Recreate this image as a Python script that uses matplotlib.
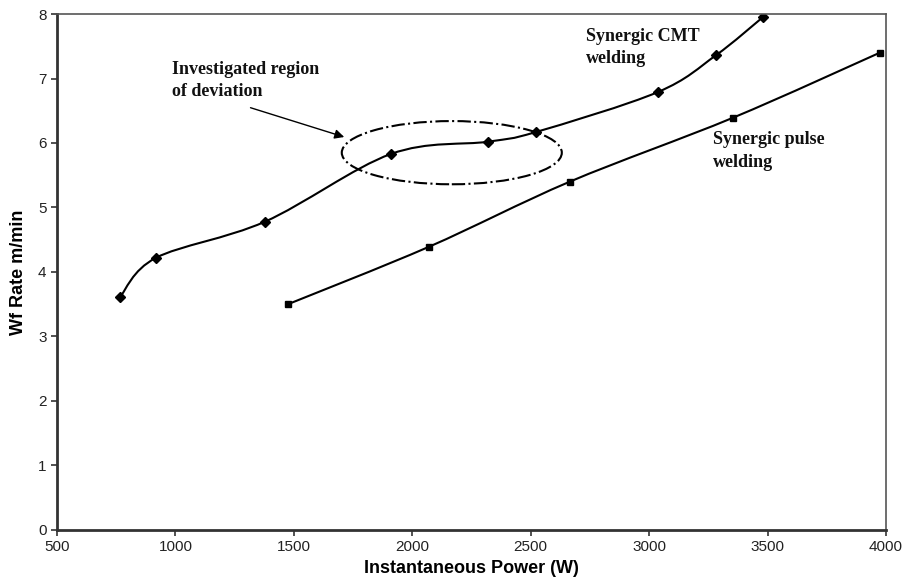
import numpy as np
import matplotlib
matplotlib.use('Agg')
import matplotlib.pyplot as plt
from matplotlib.path import Path
from matplotlib.patches import PathPatch, Ellipse

# Data #
cmt_power = [766, 918, 1378, 1910, 2319, 2522, 3037, 3282, 3480]
cmt_rate = [3.61, 4.22, 4.78, 5.83, 6.02, 6.17, 6.79, 7.36, 7.95]
pulse_power = [1475, 2070, 2665, 3353, 3974]
pulse_rate = [3.50, 4.39, 5.40, 6.39, 7.40]
x_ticks = [500, 1000, 1500, 2000, 2500, 3000, 3500, 4000]
y_ticks = [0, 1, 2, 3, 4, 5, 6, 7, 8]


def smooth_path(xs, ys):
    # Excel-style smoothed line through the points (Bezier segments)
    pts = np.column_stack([xs, ys]).astype(float)
    n = len(pts)
    verts = [pts[0]]
    codes = [Path.MOVETO]
    for i in range(n - 1):
        p0 = pts[i - 1] if i > 0 else pts[i]
        p1 = pts[i]
        p2 = pts[i + 1]
        p3 = pts[i + 2] if i + 2 < n else pts[i + 1]
        verts += [p1 + (p2 - p0) / 6, p2 - (p3 - p1) / 6, p2]
        codes += [Path.CURVE4] * 3
    return Path(verts, codes)


fig = plt.figure(figsize=(9.07, 5.86), dpi=100)
ax = fig.add_axes([0.0628, 0.0956, 0.914, 0.8805])

ax.add_patch(PathPatch(smooth_path(cmt_power, cmt_rate), fill=False, lw=1.5, color='black'))
ax.add_patch(PathPatch(smooth_path(pulse_power, pulse_rate), fill=False, lw=1.5, color='black'))
ax.plot(cmt_power, cmt_rate, 'D', color='black', ms=5.5, ls='none')
ax.plot(pulse_power, pulse_rate, 's', color='black', ms=4.5, ls='none')

# Region of deviation #
ax.add_patch(Ellipse((2167, 5.85), 929, 0.98, fill=False, lw=1.5, ls='-.', color='black'))
ax.annotate('', xy=(1724, 6.08), xytext=(1306, 6.56),
            arrowprops=dict(arrowstyle='-|>', color='black', lw=1.0, mutation_scale=14))

serif = dict(family='Liberation Serif', fontweight='bold', fontsize=13, color='#111111')
ax.text(985, 6.97, 'Investigated region\nof deviation', va='center', linespacing=1.45, **serif)
ax.text(2733, 7.48, 'Synergic CMT\nwelding', va='center', linespacing=1.45, **serif)
ax.text(3269, 5.88, 'Synergic pulse\nwelding', va='center', linespacing=1.45, **serif)

ax.set_xlim(500, 4000)
ax.set_ylim(0, 8)
ax.set_xticks(x_ticks)
ax.set_yticks(y_ticks)
ax.tick_params(labelsize=11, labelcolor='#222222', length=4, width=1.2, colors='#333333')
for lab in ax.get_xticklabels() + ax.get_yticklabels():
    lab.set_family('Liberation Sans')
ax.set_xlabel('Instantaneous Power (W)', family='Liberation Sans', fontweight='bold', fontsize=13, labelpad=4)
ax.set_ylabel('Wf Rate m/min', family='Liberation Sans', fontweight='bold', fontsize=13, labelpad=8)

for side in ['left', 'bottom']:
    ax.spines[side].set_linewidth(2)
    ax.spines[side].set_color('#333333')
for side in ['top', 'right']:
    ax.spines[side].set_linewidth(1.2)
    ax.spines[side].set_color('#555555')

plt.savefig('out.png', dpi=100)
